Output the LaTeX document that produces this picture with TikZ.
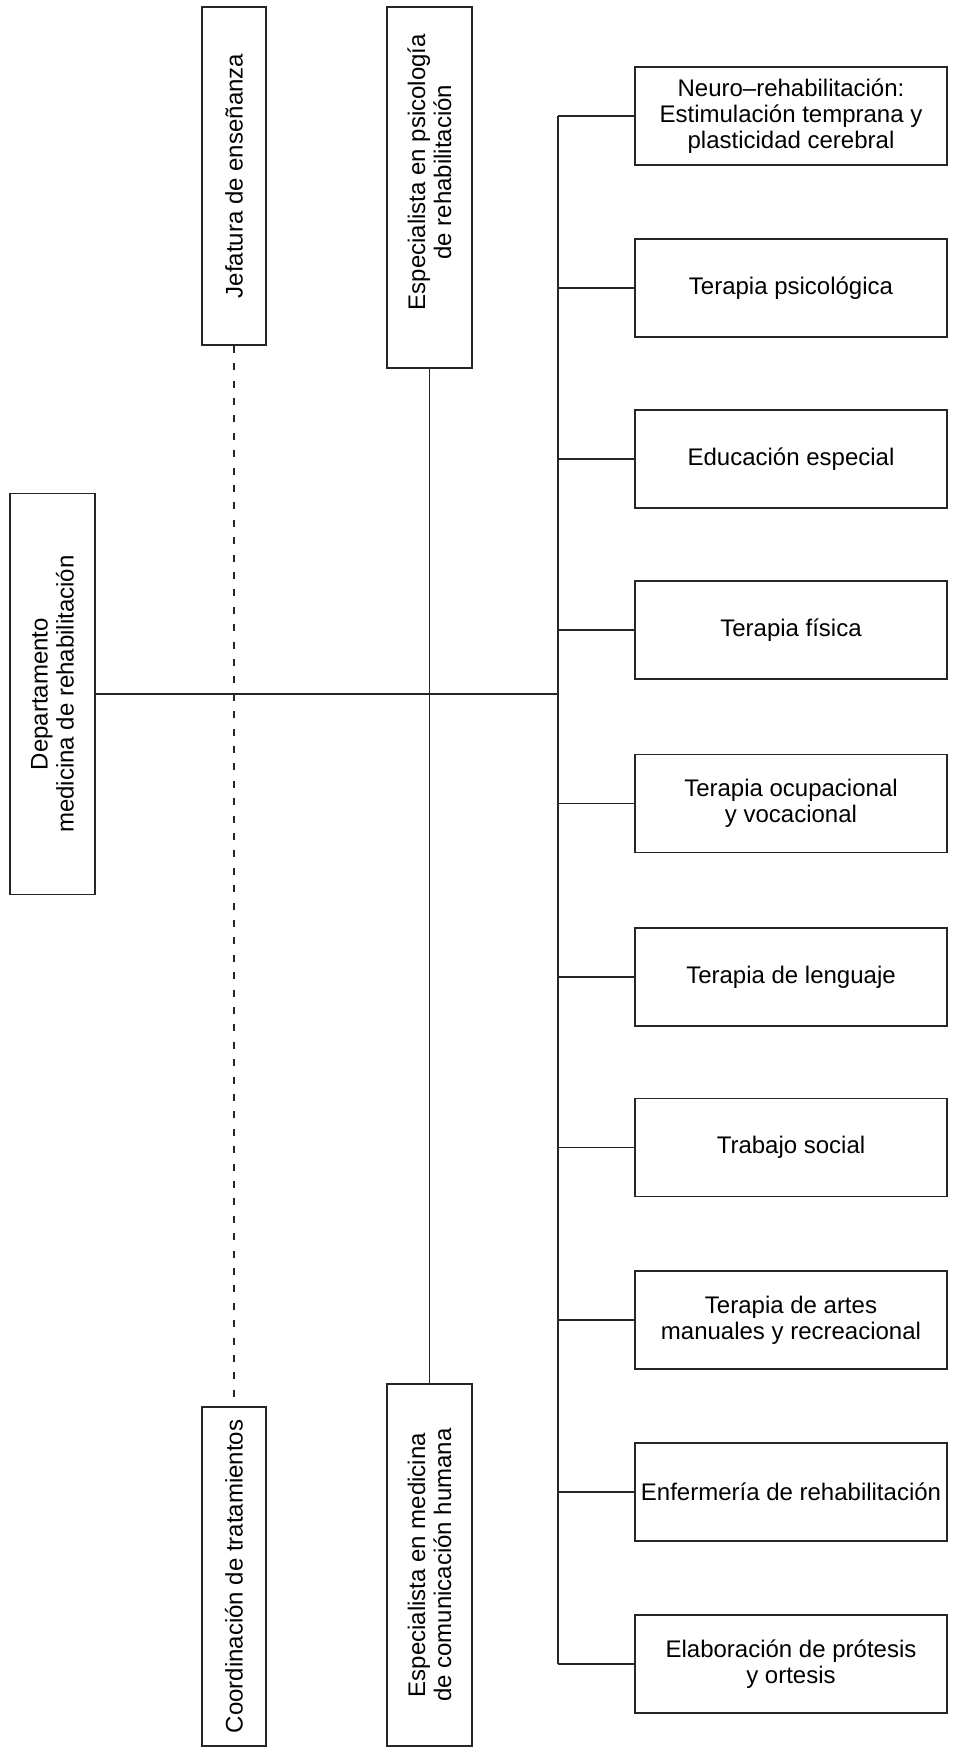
\documentclass[tikz,border=0pt]{standalone}
\usepackage{fontspec}
\setmainfont{Liberation Sans}
\begin{document}
\begin{tikzpicture}[x=0.5pt,y=-0.5pt,
  line/.style={draw=black!85,line width=0.7pt},
  txt/.style={font=\fontsize{12pt}{13pt}\selectfont,align=center},
  rbox/.style={line,txt,rectangle,minimum width=156pt,minimum height=49pt,inner xsep=1pt,inner ysep=2pt},
  vbox/.style={line,txt,rectangle,rotate=90,inner xsep=2pt,inner ysep=2pt},
  dashline/.style={line,dash pattern=on 3.5pt off 5.2pt}]
\useasboundingbox (0,0) rectangle (953,1756);
% left and middle vertical boxes
\node[vbox,minimum width=169pt,minimum height=32pt] (jef) at (234,176) {Jefatura de enseñanza};
\node[vbox,minimum width=180.5pt,minimum height=42.5pt] (psi) at (429.5,187.5) {};
\node[txt,rotate=90,inner sep=0pt] (psit) at (429.5,172) {Especialista en psicología\\de rehabilitación};
\node[vbox,minimum width=200.5pt,minimum height=42.5pt] (dep) at (52.5,694) {Departamento\\medicina de rehabilitación};
\node[vbox,minimum width=169.5pt,minimum height=32pt] (coo) at (234,1576.5) {Coordinación de tratamientos};
\node[vbox,minimum width=181pt,minimum height=42.5pt] (med) at (429.5,1565) {Especialista en medicina\\de comunicación humana};
% right boxes
\node[rbox] (r1) at (791,116) {Neuro–rehabilitación:\\Estimulación temprana y\\plasticidad cerebral};
\node[rbox] (r2) at (791,288) {Terapia psicológica};
\node[rbox] (r3) at (791,459) {Educación especial};
\node[rbox] (r4) at (791,630) {Terapia física};
\node[rbox] (r5) at (791,803.5) {Terapia ocupacional\\y vocacional};
\node[rbox] (r6) at (791,977) {Terapia de lenguaje};
\node[rbox] (r7) at (791,1147.5) {Trabajo social};
\node[rbox] (r8) at (791,1320) {Terapia de artes\\manuales y recreacional};
\node[rbox] (r9) at (791,1492) {Enfermería de rehabilitación};
\node[rbox] (r10) at (791,1664) {Elaboración de prótesis\\y ortesis};
% bus
\coordinate (bus) at (558,694);
\draw[line] (r1.west -| bus) -- (r10.west -| bus);
\foreach \i in {1,...,10}{\draw[line] (r\i.west -| bus) -- (r\i.west);}
% connectors
\draw[line] (dep.south) -- (bus);
\draw[dashline] (jef.west) -- (coo.east);
\draw[line] (psi.west) -- (med.east);
\end{tikzpicture}
\end{document}
